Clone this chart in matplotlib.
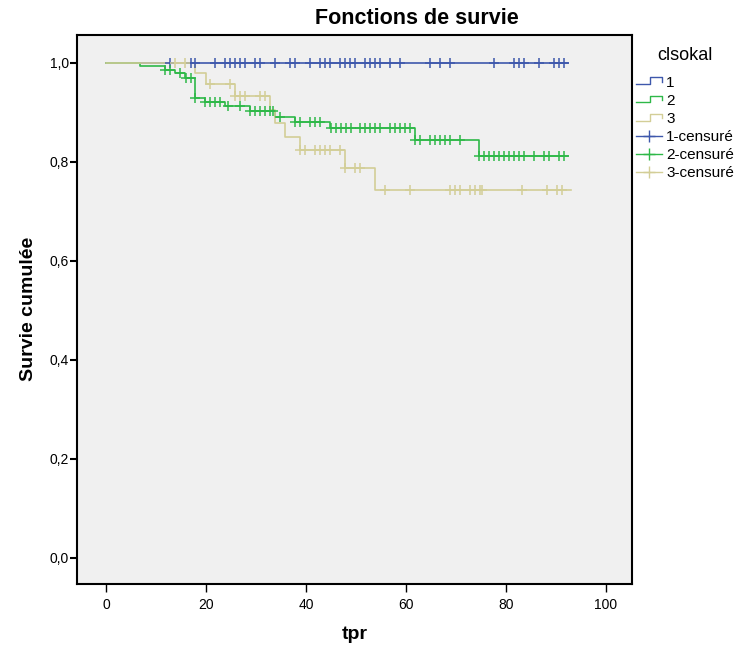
import numpy as np
import matplotlib
matplotlib.use("Agg")
import matplotlib.pyplot as plt
from matplotlib.lines import Line2D
from matplotlib.legend_handler import HandlerBase

plt.rcParams['font.family'] = ['Liberation Sans', 'DejaVu Sans']

# groupes clsokal : instants de deces (temps, survie apres le saut)
groups = ["1", "2", "3"]
colors = ["#3e58ac", "#2eb848", "#d3ce97"]

event_times = [
    [],
    [6.9, 11.8, 13.8, 15.8, 17.9, 19.8, 23.8, 28.8, 33.8, 37.8, 44.8, 61.8, 74.7],
    [17.8, 20.0, 25.8, 32.8, 33.8, 35.8, 38.8, 47.8, 53.8],
]
event_surv = [
    [],
    [0.994, 0.986, 0.979, 0.970, 0.929, 0.921, 0.912, 0.902, 0.890, 0.880, 0.868, 0.844, 0.811],
    [0.979, 0.958, 0.934, 0.905, 0.879, 0.851, 0.824, 0.787, 0.743],
]
last_time = [92.5, 92.5, 93.0]

# observations censurees
censored = [
    [12.8, 17.0, 17.9, 21.8, 23.9, 24.8, 25.8, 26.8, 27.8, 29.8, 30.8, 33.8,
     36.8, 37.8, 40.8, 42.8, 43.8, 44.8, 46.8, 47.8, 48.8, 49.8, 51.8, 52.8, 53.8,
     54.8, 56.8, 58.8, 64.8, 66.8, 68.8, 77.7, 81.7, 82.7, 83.7, 86.7, 89.7, 90.7, 91.7],
    [11.8, 12.8, 14.8, 16.1, 17.0, 17.9, 19.8, 20.8, 21.8, 22.8, 24.5, 26.8, 28.8,
     29.8, 30.8, 31.8, 32.8, 33.5, 34.8, 37.8, 38.8, 40.8, 41.8, 42.8, 45.1, 46.1,
     47.1, 48.1, 49.1, 50.8, 51.8, 52.8, 53.8, 54.8, 56.8, 57.8, 58.8, 59.8, 60.8,
     61.8, 62.8, 64.8, 65.8, 66.8, 67.8, 68.8, 70.8, 74.7, 75.7, 76.7, 77.7, 78.7,
     79.7, 80.7, 81.7, 82.7, 83.7, 85.7, 87.7, 88.7, 90.7, 91.7],
    [13.9, 15.9, 20.8, 24.8, 25.8, 26.8, 27.8, 30.8, 31.8, 38.8, 39.8, 41.8, 42.8,
     43.8, 44.8, 46.8, 47.8, 49.8, 50.8, 55.8, 60.8, 68.8, 69.8, 70.8, 72.8, 73.8,
     74.8, 75.3, 83.3, 88.3, 90.3, 91.3],
]


class HandlerStep(HandlerBase):
    def create_artists(self, legend, orig_handle, xdescent, ydescent,
                       width, height, fontsize, trans):
        x = np.array([0, 0.55, 0.55, 1.0, 1.0]) * width - xdescent
        y = np.array([0.2, 0.2, 0.85, 0.85, 0.45]) * height - ydescent
        ln = Line2D(x, y, color=orig_handle.get_color(), lw=1.0)
        ln.set_transform(trans)
        return [ln]


fig = plt.figure(figsize=(7.43, 6.47), dpi=100)
ax = fig.add_axes([0.1043, 0.0974, 0.7463, 0.849])
ax.set_facecolor("#f0f0f0")

step_handles = []
cens_handles = []
for i in range(3):
    t = np.concatenate([[0.0], event_times[i], [last_time[i]]])
    s = np.concatenate([[1.0], event_surv[i], [event_surv[i][-1] if event_surv[i] else 1.0]])
    h, = ax.step(t, s, where="post", color=colors[i], lw=1.2, zorder=2 + i)
    step_handles.append(h)
    c = np.array(censored[i])
    idx = np.searchsorted(t, c, side="right") - 1
    ax.plot(c, s[idx], ls="none", marker="+", ms=7, mew=1.1,
            color=colors[i], zorder=5 + i)
    cens_handles.append(Line2D([], [], color=colors[i], lw=1.0, marker="+", ms=9, mew=1.0))

ax.set_xlim(-5.7, 105.2)
ax.set_ylim(-0.0525, 1.057)
ax.set_xticks([0, 20, 40, 60, 80, 100])
ax.set_yticks([0, 0.2, 0.4, 0.6, 0.8, 1.0])
ax.set_yticklabels(["0,0", "0,2", "0,4", "0,6", "0,8", "1,0"])
ax.tick_params(axis="y", length=5, width=1.5, labelsize=10, pad=1)
ax.tick_params(axis="x", length=6, width=1.0, labelsize=10, pad=4)
for sp in ax.spines.values():
    sp.set_linewidth(1.5)

ax.set_xlabel("tpr", fontsize=14, fontweight="bold", labelpad=10)
ax.set_ylabel("Survie cumulée", fontsize=14, fontweight="bold", labelpad=9)
fig.text(0.561, 0.972, "Fonctions de survie", fontsize=15.5, fontweight="bold",
         ha="center", va="center")

labels = groups + [g + "-censuré" for g in groups]
leg = fig.legend(step_handles + cens_handles, labels, loc="upper left",
                 bbox_to_anchor=(0.837, 0.948), frameon=False, fontsize=11,
                 title="clsokal", title_fontsize=13, handlelength=1.7,
                 handletextpad=0.3, labelspacing=0.27,
                 handler_map={h: HandlerStep() for h in step_handles})
leg._legend_box.sep = 8

fig.savefig("out.png", dpi=100)
